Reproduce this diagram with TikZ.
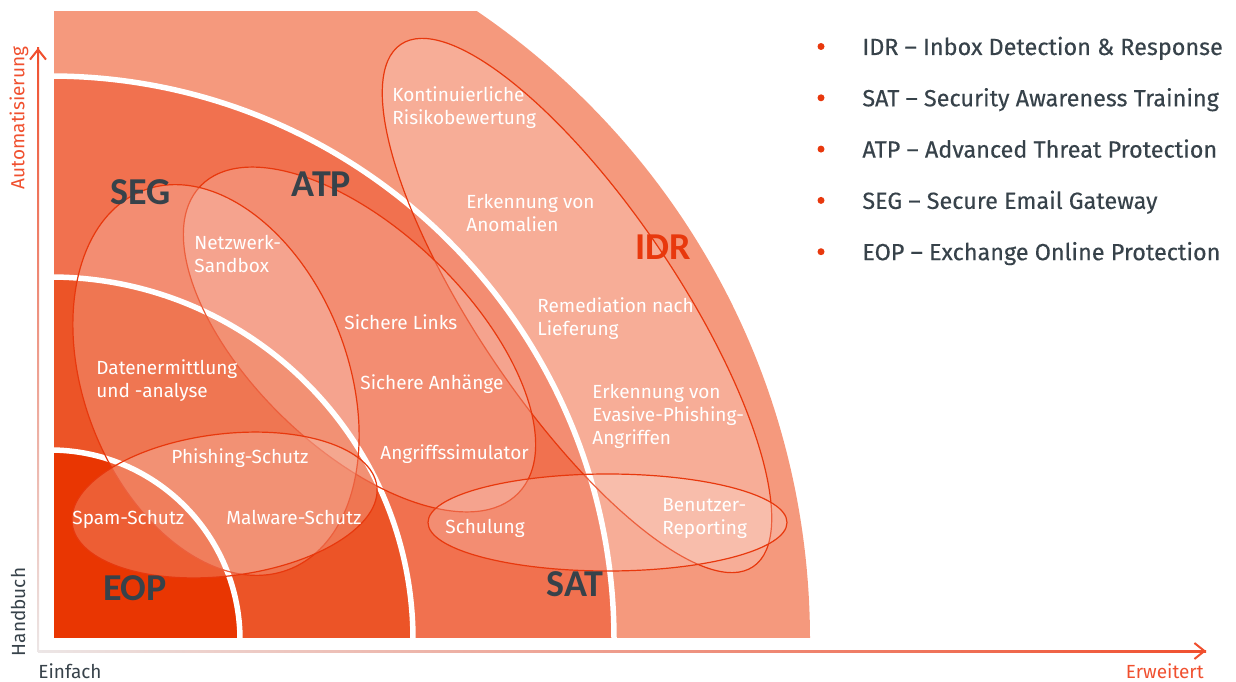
\documentclass[tikz,border=0pt]{standalone}
\usepackage{fontspec}
\setmainfont{Fira Sans}
\newfontfamily\tagfont{Carlito}
\newfontfamily\legendfont{Fira Sans}[FakeBold=0.3]
\usetikzlibrary{arrows.meta}
\definecolor{bandA}{HTML}{F5997D}
\definecolor{bandB}{HTML}{F1714F}
\definecolor{bandC}{HTML}{EC5427}
\definecolor{bandD}{HTML}{E93602}
\definecolor{rim}{HTML}{E8380D}
\definecolor{ink}{HTML}{37424A}
\definecolor{axis}{HTML}{F0502F}
\definecolor{axisfade}{HTML}{ECE6E6}
\begin{document}
\begin{tikzpicture}[x=0.5pt, y=0.5pt,
    item/.style={text=white, font=\fontsize{9.5}{11.5}\selectfont, align=left, inner sep=0pt},
    tag/.style={text=ink, font=\tagfont\bfseries\fontsize{19}{20}\selectfont, inner sep=0pt},
    zone/.style={draw=rim, line width=0.6pt, fill=white, fill opacity=0.2},
    legend/.style={text=ink, font=\legendfont\fontsize{11.7}{14}\selectfont, anchor=base west, inner sep=0pt},
    bullet/.style={circle, fill=rim, inner sep=0pt, minimum size=3.5pt},
    axislabel/.style={font=\fontsize{9.5}{11}\selectfont, inner sep=0pt}]

    \useasboundingbox (0,0) rectangle (1236,681);

    % quarter bands
    \begin{scope}
        \clip (54,44) rectangle (1236,669);
        \fill[bandA] (50,41) circle[radius=760];
        \filldraw[fill=bandB, draw=white, line width=2.75pt] (50,41) circle[radius=564];
        \filldraw[fill=bandC, draw=white, line width=2.75pt] (50,41) circle[radius=363];
        \filldraw[fill=bandD, draw=white, line width=2.75pt] (50,41) circle[radius=190];
    \end{scope}

    % axes
    \coordinate (o) at (38,30);
    \coordinate (ytop) at (38,633);
    \coordinate (xend) at (1206,30);
    \shade[bottom color=axisfade, top color=axis] ([xshift=-0.5pt]o) rectangle ([xshift=0.5pt]ytop);
    \shade[left color=axisfade, right color=axis] ([yshift=-0.5pt]o) rectangle ([yshift=0.5pt]xend);
    \draw[axis, line width=1pt, -{Straight Barb[length=5pt, width=8pt]}] ([yshift=-8pt]ytop) -- (ytop);
    \draw[axis, line width=1pt, -{Straight Barb[length=5pt, width=8pt]}] ([xshift=-8pt]xend) -- (xend);

    \node[axislabel, text=axis, rotate=90, anchor=base] (auto) at (24.5,563) {Automatisierung};
    \node[axislabel, text=ink, rotate=90, anchor=base] (manual) at (25,69) {Handbuch};
    \node[axislabel, text=ink, anchor=base west] (simple) at (38,3) {Einfach};
    \node[axislabel, text=axis, anchor=base east] (adv) at (1204,3) {Erweitert};

    % product ellipses
    \draw[zone, shift={(577,375.5)}, rotate=-56] (0,0) ellipse[x radius=315, y radius=100];
    \draw[zone, shift={(359.5,341.5)}, rotate=-44] (0,0) ellipse[x radius=221, y radius=109];
    \draw[zone, shift={(216,301)}, rotate=-69] (0,0) ellipse[x radius=203, y radius=132];
    \draw[zone, shift={(224.5,176)}, rotate=7] (0,0) ellipse[x radius=153.5, y radius=71];
    \draw[zone] (607.5,158.5) ellipse[x radius=179.5, y radius=48.5];

    % features
    \node[item, anchor=west] (risk) at (392,573.5) {Kontinuierliche\\Risikobewertung};
    \node[item, anchor=west] (anom) at (466,468.5) {Erkennung von\\Anomalien};
    \node[item, anchor=west] (remed) at (537,362.5) {Remediation nach\\Lieferung};
    \node[item, anchor=west] (evasive) at (592,265) {Erkennung von\\Evasive-Phishing-\\Angriffen};
    \node[item, anchor=west] (report) at (662,162.5) {Benutzer-\\Reporting};
    \node[item, anchor=base west] (train) at (445,148) {Schulung};
    \node[item, anchor=base west] (sim) at (380,222) {Angriffssimulator};
    \node[item, anchor=base west] (attach) at (360,292) {Sichere Anhänge};
    \node[item, anchor=base west] (links) at (344,351) {Sichere Links};
    \node[item, anchor=west] (sandbox) at (194,427) {Netzwerk-\\Sandbox};
    \node[item, anchor=west] (data) at (96,300.5) {Datenermittlung\\und -analyse};
    \node[item, anchor=base west] (phish) at (171,218) {Phishing-Schutz};
    \node[item, anchor=base west] (spam) at (72,157) {Spam-Schutz};
    \node[item, anchor=base west] (malware) at (226,157) {Malware-Schutz};

    % product tags
    \node[tag] (seg) at (140.5,488.5) {SEG};
    \node[tag] (atp) at (321.5,497) {ATP};
    \node[tag] (eop) at (135,93) {EOP};
    \node[tag] (sat) at (575,96.5) {SAT};
    \node[tag, text=rim] (idr) at (663.5,433.5) {IDR};

    % legend
    \foreach \abbr/\name [count=\i] in {IDR/Inbox Detection \& Response, SAT/Security Awareness Training, ATP/Advanced Threat Protection, SEG/Secure Email Gateway, EOP/Exchange Online Protection} {
        \node[bullet] (b\i) at (821,{634.5-51.3*(\i-1)}) {};
        \node[legend] (l\i) at (862,{626-51.3*(\i-1)}) {\abbr~– \name};
    }

\end{tikzpicture}
\end{document}
